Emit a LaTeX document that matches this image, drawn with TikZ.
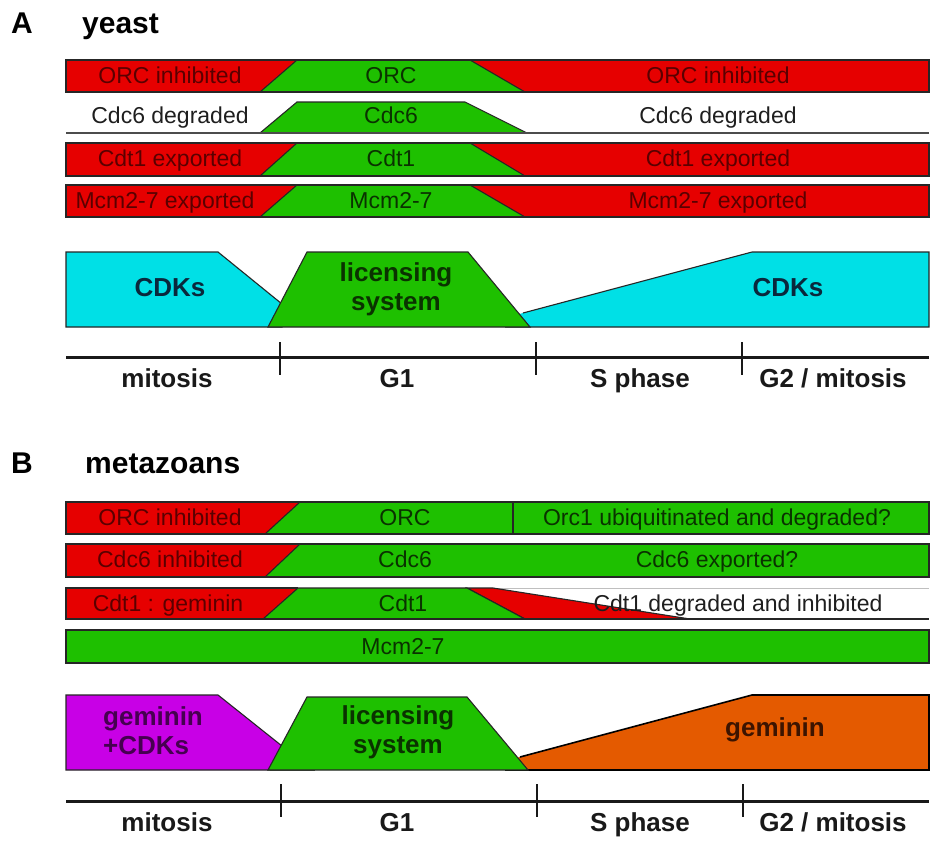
\documentclass[tikz,border=0pt]{standalone}
\usepackage{fontspec}
\setmainfont{Liberation Sans}
\definecolor{cred}{RGB}{230,0,0}
\definecolor{cgreen}{RGB}{30,192,0}
\definecolor{ccyan}{RGB}{0,224,230}
\definecolor{cpurple}{RGB}{200,0,230}
\definecolor{corange}{RGB}{228,90,0}
\definecolor{tred}{RGB}{90,0,0}
\definecolor{tgreen}{RGB}{10,50,0}
\definecolor{twhite}{RGB}{30,30,30}
\definecolor{tcyan}{RGB}{10,40,60}
\definecolor{tpurple}{RGB}{70,0,80}
\definecolor{torange}{RGB}{60,20,0}
\tikzset{
  rowtxt/.style={font=\fontsize{23}{26}\selectfont, anchor=base, inner sep=0pt},
  bigtxt/.style={font=\fontsize{26}{29}\selectfont\bfseries, inner sep=0pt, align=center},
  axtxt/.style={font=\fontsize{26}{28}\selectfont\bfseries, anchor=base, inner sep=0pt, text=black!90},
  hdr/.style={font=\fontsize{30}{33}\selectfont\bfseries, anchor=base west, inner sep=0pt},
  edge/.style={draw=black!85, line width=1.1pt, line join=miter},
  axisline/.style={line width=3pt, draw=black!90},
  tickline/.style={line width=2.5pt, draw=black!90},
}
\begin{document}
\begin{tikzpicture}[x=1pt,y=-1pt]
\useasboundingbox (0,0) rectangle (930,841);
\fill[white] (0,0) rectangle (930,841);

% ---------------- A ----------------
\node[hdr] (labA) at (11,33) {A};
\node[hdr] (yeast) at (82,33) {yeast};

% row 1 ORC
\fill[cred] (66,60) rectangle (929,92);
\filldraw[fill=cgreen, edge] (260,92) -- (297,60) -- (470,60) -- (525,92) -- cycle;
\draw[edge] (66,60) rectangle (929,92);
\node[rowtxt, text=tred] (a1l) at (170,83) {ORC inhibited};
\node[rowtxt, text=tgreen] (a1m) at (391,83) {ORC};
\node[rowtxt, text=tred] (a1r) at (718,83) {ORC inhibited};

% row 2 Cdc6
\filldraw[fill=cgreen, edge] (260,133) -- (297,102) -- (465,102) -- (527,133) -- cycle;
\draw[draw=black!70, line width=1.3pt] (66,133) -- (929,133);
\node[rowtxt, text=twhite] (a2l) at (170,123) {Cdc6 degraded};
\node[rowtxt, text=tgreen] (a2m) at (391,123) {Cdc6};
\node[rowtxt, text=twhite] (a2r) at (718,123) {Cdc6 degraded};

% row 3 Cdt1
\fill[cred] (66,143) rectangle (929,176);
\filldraw[fill=cgreen, edge] (260,176) -- (297,143) -- (470,143) -- (525,176) -- cycle;
\draw[edge] (66,143) rectangle (929,176);
\node[rowtxt, text=tred] (a3l) at (170,166) {Cdt1 exported};
\node[rowtxt, text=tgreen] (a3m) at (391,166) {Cdt1};
\node[rowtxt, text=tred] (a3r) at (718,166) {Cdt1 exported};

% row 4 Mcm2-7
\fill[cred] (66,185) rectangle (929,217);
\filldraw[fill=cgreen, edge] (260,217) -- (297,185) -- (470,185) -- (525,217) -- cycle;
\draw[edge] (66,185) rectangle (929,217);
\node[rowtxt, text=tred] (a4l) at (165,208) {Mcm2-7 exported};
\node[rowtxt, text=tgreen] (a4m) at (391,208) {Mcm2-7};
\node[rowtxt, text=tred] (a4r) at (718,208) {Mcm2-7 exported};

% big shapes A
\filldraw[fill=ccyan, edge] (66,327) -- (66,252) -- (218,252) -- (282,304) -- (282,327) -- cycle;
\fill[ccyan] (505,318) -- (523,313) -- (752,252) -- (929,252) -- (929,327) -- (505,327) -- cycle;
\draw[edge] (523,313) -- (752,252) -- (929,252) -- (929,327) -- (505,327);
\filldraw[fill=cgreen, edge] (268,327) -- (307,252) -- (468,252) -- (530,327) -- cycle;
\node[bigtxt, text=tcyan] (cdk1) at (170,288) {CDKs};
\node[bigtxt, text=tgreen] (licA) at (396,289) {licensing\\system};
\node[bigtxt, text=tcyan] (cdk2) at (788,288) {CDKs};

% axis A
\draw[axisline] (66,357) -- (929,357);
\draw[tickline] (280,342) -- (280,375);
\draw[tickline] (536,342) -- (536,375);
\draw[tickline] (742,342) -- (742,375);
\node[axtxt] (axA1) at (167,387) {mitosis};
\node[axtxt] (axA2) at (397,387) {G1};
\node[axtxt] (axA3) at (640,387) {S phase};
\node[axtxt] (axA4) at (833,387) {G2 / mitosis};

% ---------------- B ----------------
\node[hdr] (labB) at (11,473) {B};
\node[hdr] (meta) at (85,473) {metazoans};

% row 1 ORC
\fill[cgreen] (66,502) rectangle (929,534);
\filldraw[fill=cred, edge] (66,502) -- (300,502) -- (265,534) -- (66,534) -- cycle;
\draw[edge] (513,502) -- (513,534);
\draw[edge] (66,502) rectangle (929,534);
\node[rowtxt, text=tred] (b1l) at (170,525) {ORC inhibited};
\node[rowtxt, text=tgreen] (b1m) at (405,525) {ORC};
\node[rowtxt, text=tgreen] (b1r) at (717,525) {Orc1 ubiquitinated and degraded?};

% row 2 Cdc6
\fill[cgreen] (66,544) rectangle (929,577);
\filldraw[fill=cred, edge] (66,544) -- (300,544) -- (265,577) -- (66,577) -- cycle;
\draw[edge] (66,544) rectangle (929,577);
\node[rowtxt, text=tred] (b2l) at (170,567) {Cdc6 inhibited};
\node[rowtxt, text=tgreen] (b2m) at (405,567) {Cdc6};
\node[rowtxt, text=tgreen] (b2r) at (717,567) {Cdc6 exported?};

% row 3 Cdt1
\fill[cred] (66,588) rectangle (300,619);
\draw[draw=black!25, line width=0.8pt] (300,588) -- (929,588);
\filldraw[fill=cred, edge] (467,588) -- (493,588) -- (690,619) -- (525,619) -- cycle;
\filldraw[fill=cgreen, edge] (263,619) -- (298,588) -- (467,588) -- (525,619) -- cycle;
\draw[edge] (298,588) -- (66,588) -- (66,619) -- (929,619);
\node[rowtxt, text=tred] (b3l) at (168,611) {Cdt1 : geminin};
\node[rowtxt, text=tgreen] (b3m) at (403,611) {Cdt1};
\node[rowtxt, text=twhite] (b3r) at (738,611) {Cdt1 degraded and inhibited};

% row 4 Mcm2-7
\filldraw[fill=cgreen, edge] (66,630) rectangle (929,663);
\node[rowtxt, text=tgreen] (b4m) at (403,654) {Mcm2-7};

% big shapes B
\filldraw[fill=cpurple, edge] (66,770) -- (66,695) -- (218,695) -- (282,746) -- (282,770) -- cycle;
\draw[draw=black!70, line width=1pt] (270,770) -- (315,770);
\fill[corange] (505,761) -- (520,757) -- (752,695) -- (929,695) -- (929,770) -- (505,770) -- cycle;
\draw[draw=black, line width=1.6pt, line join=miter] (520,757) -- (752,695) -- (929,695) -- (929,770) -- (505,770);
\filldraw[fill=cgreen, edge] (268,770) -- (307,697) -- (467,697) -- (528,770) -- cycle;
\node[bigtxt, text=tpurple, align=left, anchor=west] (gemcdk) at (103,731) {geminin\\+CDKs};
\node[bigtxt, text=tgreen] (licB) at (398,732) {licensing\\system};
\node[bigtxt, text=torange] (gemB) at (775,730) {geminin};

% axis B
\draw[axisline] (66,801) -- (929,801);
\draw[tickline] (281,784) -- (281,817);
\draw[tickline] (537,784) -- (537,817);
\draw[tickline] (743,784) -- (743,817);
\node[axtxt] (axB1) at (167,831) {mitosis};
\node[axtxt] (axB2) at (397,831) {G1};
\node[axtxt] (axB3) at (640,831) {S phase};
\node[axtxt] (axB4) at (833,831) {G2 / mitosis};
\end{tikzpicture}
\end{document}
